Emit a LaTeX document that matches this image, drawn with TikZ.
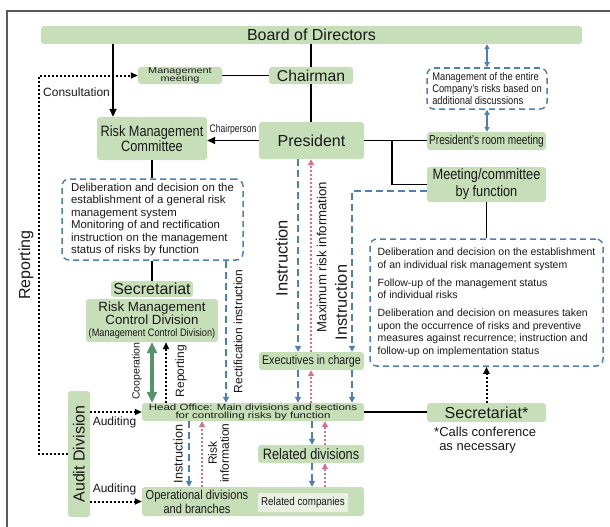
\documentclass[tikz,border=0pt]{standalone}
\usepackage{fontspec}
\setmainfont{Liberation Sans}
\newfontfamily\condfont[FakeStretch=0.85]{Liberation Sans}
\newfontfamily\narrowfont[FakeStretch=0.78]{Liberation Sans}
\newfontfamily\widefont[FakeStretch=1.28]{Liberation Sans}
\usetikzlibrary{arrows.meta}

\definecolor{boxgreen}{RGB}{198,223,184}
\definecolor{lightbox}{RGB}{232,241,226}
\definecolor{dashblue}{RGB}{78,128,176}
\definecolor{infopink}{RGB}{214,112,142}
\definecolor{coopgreen}{RGB}{84,148,104}
\definecolor{framegray}{RGB}{90,90,90}

\newcommand{\fsz}[2]{\fontsize{#1}{#2}\selectfont\lineskiplimit=-20pt\relax}

\tikzset{
    box/.style={fill=boxgreen, rounded corners=3pt, inner sep=0pt, align=center, text=black!90},
    note/.style={draw=dashblue, line width=1.5pt, dash pattern=on 6pt off 4pt,
        rounded corners=7pt, align=left, inner sep=0pt, text=black!90},
    lbl/.style={inner sep=0pt, text=black!90},
    link/.style={line width=1.8pt},
    linkarr/.style={link, -{Triangle[length=8pt,width=7pt]}},
    dotarr/.style={line width=2pt, dash pattern=on 2pt off 2pt, -{Triangle[length=7pt,width=6pt]}},
    bluearr/.style={dashblue, line width=1.8pt, dash pattern=on 7pt off 4pt, -{Triangle[length=6pt,width=6pt]}},
    bluedbl/.style={dashblue, line width=1.4pt, {Triangle[length=5pt,width=5pt]}-{Triangle[length=5pt,width=5pt]}},
    pinkarr/.style={infopink, line width=1.8pt, dash pattern=on 1.8pt off 2.2pt, -{Triangle[length=6pt,width=6pt]}},
    coop/.style={coopgreen, line width=3.5pt, {Triangle[length=11pt,width=10pt]}-{Triangle[length=11pt,width=10pt]}}
}

\begin{document}
\begin{tikzpicture}[x=1pt, y=-1pt]
    \useasboundingbox (0,0) rectangle (610,527);
    \clip (0,0) rectangle (610,527);
    \draw[framegray, line width=1.2pt] (7,540) -- (7,11) -- (620,11);

    % columns of the vertical connectors
    \coordinate (xboard) at (113,0);
    \coordinate (xleft) at (39,0);
    \coordinate (xrep) at (166,0);
    \coordinate (xrect) at (226,0);
    \coordinate (xinst) at (298,0);
    \coordinate (xmax) at (311,0);
    \coordinate (xinstr) at (352,0);
    \coordinate (xdown) at (312,0);
    \coordinate (xup) at (325,0);
    \coordinate (xopi) at (189,0);
    \coordinate (xopr) at (202,0);
    \coordinate (xfork) at (392,0);

    % boxes
    \node[box, minimum width=541pt, minimum height=18pt, font=\fsz{16}{18}] (board) at (311.5,35) {Board of Directors};
    \node[box, minimum width=84pt, minimum height=17pt, font=\widefont\fsz{8.5}{7.7}] (mtg) at (180,75.5) {Management\\meeting};
    \node[box, minimum width=84pt, minimum height=17pt, font=\fsz{15.7}{18}] (chair) at (311,75.5) {Chairman};
    \node[box, minimum width=105pt, minimum height=37pt, font=\fsz{16}{18}] (pres) at (311.5,140.5) {President};
    \node[box, minimum width=110pt, minimum height=43pt, font=\condfont\fsz{15}{15}] (rmc) at (152,138.5) {Risk Management\\Committee};
    \node[note, minimum width=181pt, minimum height=81pt, font=\fsz{11.4}{12.4}] (note1) at (152.5,219.5)
        {Deliberation and decision on the\\establishment of a general risk\\management system\\Monitoring of and rectification\\instruction on the management\\status of risks by function};
    \node[box, minimum width=82pt, minimum height=16pt, font=\fsz{16}{18}] (secL) at (152,289) {Secretariat};
    \node[box, minimum width=132pt, minimum height=43pt, font=\fsz{13.3}{12.5}] (rmcd) at (152,320.5)
        {Risk Management\\Control Division\\{\condfont\fsz{10.8}{12.5}(Management Control Division)}};
    \node[note, minimum width=120pt, minimum height=41pt, font=\condfont\fsz{11}{12}] (note2) at (487,88.5)
        {Management of the entire\\Company’s risks based on\\additional discussions};
    \node[box, minimum width=119pt, minimum height=18pt, font=\narrowfont\fsz{13}{15}] (prm) at (486.5,141) {President’s room meeting};
    \node[box, minimum width=119pt, minimum height=35pt, font=\condfont\fsz{15}{17}] (mbf) at (486.5,184.5) {Meeting/committee\\by function};
    \node[note, minimum width=233pt, minimum height=127pt, font=\fsz{10.5}{12.5}] (note3) at (486.5,302.5)
        {Deliberation and decision on the establishment\\of an individual risk management system\\[5.5pt]
         Follow-up of the management status\\of individual risks\\[5.5pt]
         Deliberation and decision on measures taken\\upon the occurrence of risks and preventive\\measures against recurrence; instruction and\\follow-up on implementation status};
    \node[box, minimum width=105pt, minimum height=18pt, font=\condfont\fsz{12.6}{14}] (exec) at (311.5,361) {Executives in charge};
    \node[box, minimum width=222pt, minimum height=18pt, font=\widefont\fsz{9}{7.7}] (ho) at (253,412)
        {Head Office: Main divisions and sections\\for controlling risks by function};
    \node[box, minimum width=119pt, minimum height=19pt, font=\fsz{16}{18}] (secR) at (486.5,412.5) {Secretariat*};
    \node[lbl, anchor=north west, align=left, font=\fsz{13}{13.3}] (calls) at (434,427.2) {*Calls conference\\\phantom{*}as necessary};
    \node[box, minimum width=106pt, minimum height=18pt, font=\condfont\fsz{15}{17}] (rel) at (311,454) {Related divisions};
    \node[box, minimum width=222pt, minimum height=29pt] (op) at (253,501.5) {};
    \node[lbl, align=center, font=\condfont\fsz{13}{13.7}] (optext) at (197,501.5) {Operational divisions\\and branches};
    \node[fill=lightbox, rounded corners=1pt, inner sep=0pt, minimum width=90pt, minimum height=19pt,
        font=\condfont\fsz{11.5}{13}, text=black!90] (relco) at (303,502.5) {Related companies};
    \node[box, rotate=90, minimum width=126pt, minimum height=22pt, font=\fsz{16}{18}] (audit) at (79,454) {Audit Division};

    % labels
    \node[lbl, anchor=west, font=\fsz{12}{14}] (consult) at (43,92) {Consultation};
    \node[lbl, font=\narrowfont\fsz{11}{13}] (chairp) at (233,129.5) {Chairperson};
    \node[lbl, rotate=90, font=\fsz{16}{18}] (repbig) at (26,265) {Reporting};
    \node[lbl, rotate=90, font=\fsz{10.5}{12}] (cooplbl) at (137,371) {Cooperation};
    \node[lbl, rotate=90, font=\fsz{12}{14}] (replbl) at (181,371) {Reporting};
    \node[lbl, rotate=90, font=\fsz{12}{14}] (rectlbl) at (238,331.5) {Rectification instruction};
    \node[lbl, rotate=90, font=\fsz{16.5}{18}] (instA) at (281.7,258) {Instruction};
    \node[lbl, rotate=90, font=\fsz{13.2}{15}] (maxlbl) at (321.7,257) {Maximum risk information};
    \node[lbl, rotate=90, font=\fsz{16.3}{18}] (instB) at (341,302.5) {Instruction};
    \node[lbl, rotate=90, font=\fsz{12.6}{14}] (instC) at (178,454) {Instruction};
    \node[lbl, rotate=90, align=center, font=\fsz{12}{12}] (risklbl) at (218.5,453) {Risk\\information};
    \node[lbl, font=\fsz{12}{14}] (audA) at (114.5,422) {Auditing};
    \node[lbl, font=\fsz{12}{14}] (audB) at (114.5,489.7) {Auditing};

    % solid lines
    \draw[linkarr] (board.south -| xboard) -- (rmc.north -| xboard);
    \draw[link] (board.south -| chair.north) -- (chair.north);
    \draw[link] (chair.south) -- (pres.north -| chair.south);
    \draw[link] (mtg) -- (chair);
    \draw[linkarr] (pres.west) -- (rmc.east |- pres.west);
    \draw[link] (rmc.south) -- (note1.north -| rmc.south);
    \draw[link] (note1.south -| secL.north) -- (secL.north);
    \draw[link] (pres.east) -- (prm.west |- pres.east);
    \draw[link] (pres.east -| xfork) |- (mbf.west);
    \draw[link] (mbf.south) -- (note3.north);
    \draw[link, line width=2.5pt] (ho.east) -- (secR.west |- ho.east);

    % dotted black
    \draw[dotarr] (audit.north) -| (xleft |- mtg.west) -- (mtg.west);
    \draw[dotarr] (audit.south |- ho.west) -- (ho.west);
    \draw[dotarr] (audit.south |- op.west) -- (op.west);
    \draw[dotarr] (ho.north -| xrep) -- (rmcd.south -| xrep);
    \draw[dotarr] (secR.north) -- (note3.south);

    % cooperation
    \draw[coop] (rmcd.south) -- (rmcd.south |- ho.north);

    % instructions
    \draw[bluearr] (note1.south -| xrect) -- (ho.north -| xrect);
    \draw[bluearr] (pres.south -| xinst) -- (exec.north -| xinst);
    \draw[bluearr] ([yshift=-6.5pt]mbf.west) -| (exec.north -| xinstr);
    \draw[bluearr] (exec.south -| xinst) -- (ho.north -| xinst);
    \draw[bluearr] (exec.south -| xinstr) -- (ho.north -| xinstr);
    \draw[bluearr] (ho.south -| xdown) -- (rel.north -| xdown);
    \draw[bluearr] (rel.south -| xdown) -- (op.north -| xdown);
    \draw[bluearr] (ho.south -| xopi) -- (op.north -| xopi);
    \draw[bluedbl] (board.south -| note2.north) -- (note2.north);
    \draw[bluedbl] (note2.south) -- (prm.north -| note2.south);

    % risk information
    \draw[pinkarr] (exec.north -| xmax) -- (pres.south -| xmax);
    \draw[pinkarr] (ho.north -| xmax) -- (exec.south -| xmax);
    \draw[pinkarr] (rel.north -| xup) -- (ho.south -| xup);
    \draw[pinkarr] (op.north -| xup) -- (rel.south -| xup);
    \draw[pinkarr] (op.north -| xopr) -- (ho.south -| xopr);
\end{tikzpicture}
\end{document}
